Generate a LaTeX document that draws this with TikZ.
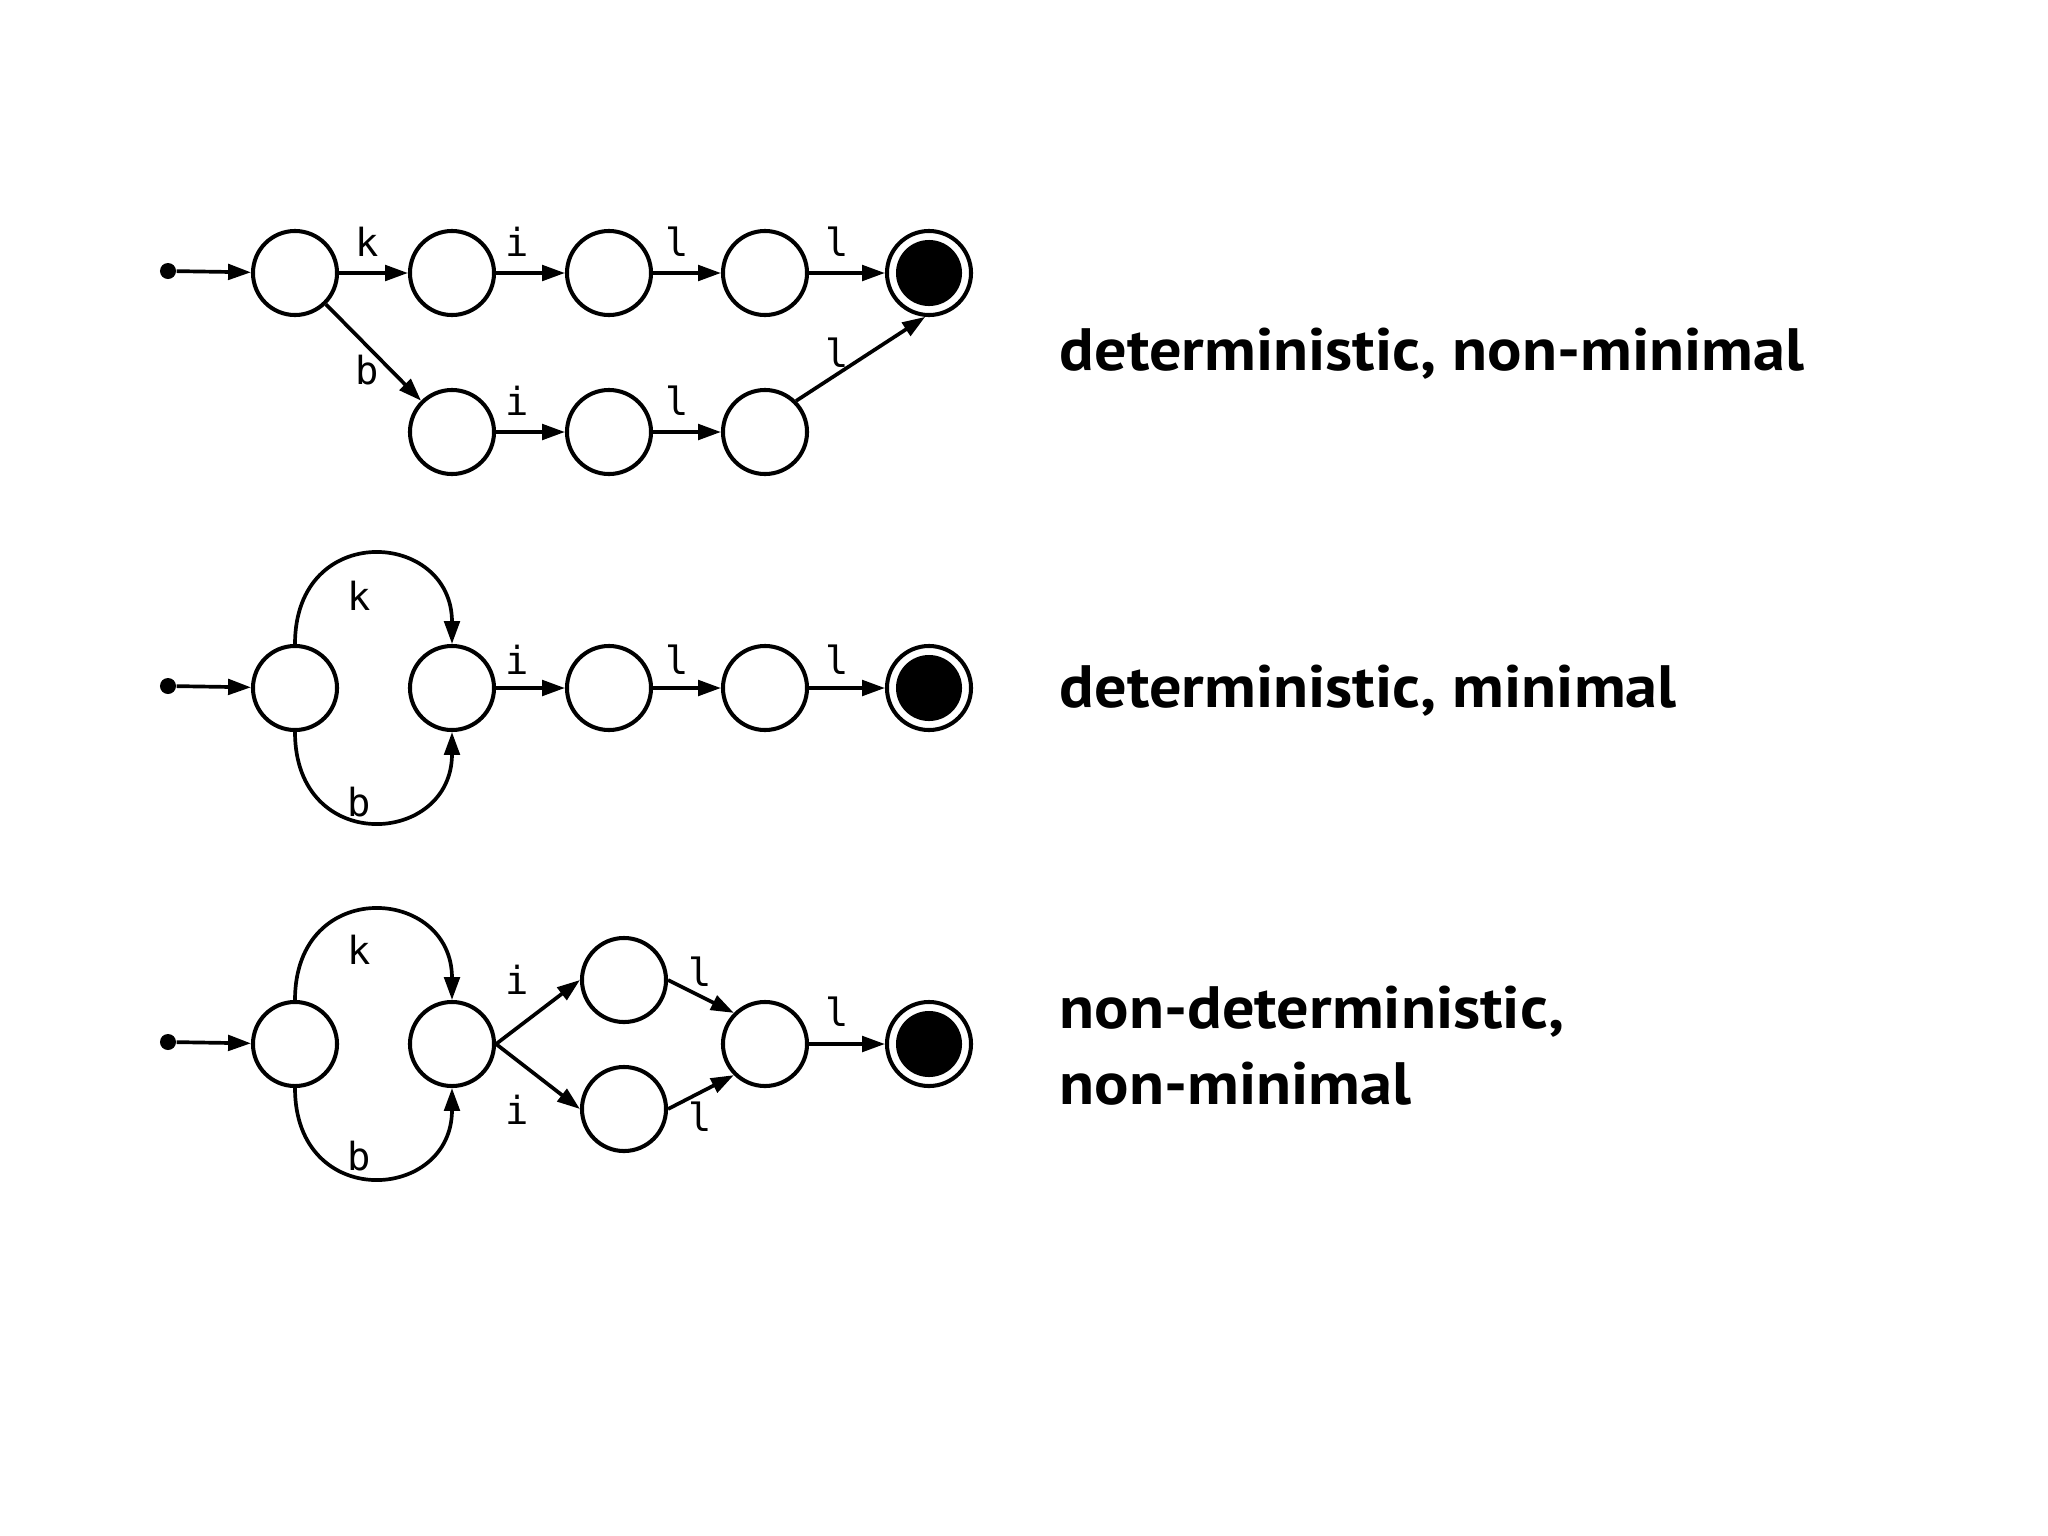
\documentclass[tikz,border=0pt]{standalone}
\usepackage{fontspec}
\setmainfont{PT Sans}
\newfontfamily\lblfont{DejaVu Sans Mono}
\newfontfamily\ttlfont[FakeStretch=1.075]{PT Sans}
\usetikzlibrary{arrows.meta}
\begin{document}
\begin{tikzpicture}[x=0.01cm,y=-0.01cm,
  state/.style={circle,draw,line width=1.15pt,minimum size=0.84cm,inner sep=0pt},
  acc/.style={state,path picture={\fill (path picture bounding box.center) circle (0.33cm);}},
  edge/.style={line width=1.05pt,-{Triangle[length=6.5pt,width=4.4pt]}},
  lbl/.style={font=\lblfont\fontsize{11}{13}\selectfont,inner sep=0pt},
  ttl/.style={font=\ttlfont\bfseries\fontsize{17}{21.6}\selectfont,anchor=base west,inner sep=0pt,align=left},
  startdot/.style={circle,fill,minimum size=0.16cm,inner sep=0pt}]
\useasboundingbox (0,0) rectangle (2048,1536);

% ---------- row 1 ----------
\node[startdot] (s1) at (168,271) {};
\node[state] (a1) at (295,273) {};
\node[state] (a2) at (452,273) {};
\node[state] (a3) at (609,273) {};
\node[state] (a4) at (765,273) {};
\node[acc]   (a5) at (929,273) {};
\node[state] (b2) at (452,432) {};
\node[state] (b3) at (609,432) {};
\node[state] (b4) at (765,432) {};
\draw[edge] (s1) -- (a1);
\draw[edge] (a1) -- (a2);
\draw[edge] (a2) -- (a3);
\draw[edge] (a3) -- (a4);
\draw[edge] (a4) -- (a5);
\draw[edge] (a1) -- (b2);
\draw[edge] (b2) -- (b3);
\draw[edge] (b3) -- (b4);
\draw[edge] (b4.45) -- (a5.265);
\node[lbl] (la1) at (367,242) {k};
\node[lbl] (la2) at (517,242) {i};
\node[lbl] (la3) at (677,242) {l};
\node[lbl] (la4) at (837,242) {l};
\node[lbl] (lb1) at (367,370) {b};
\node[lbl] (lb2) at (517,401) {i};
\node[lbl] (lb3) at (677,401) {l};
\node[lbl] (lb4) at (837,353) {l};
\node[ttl] (t1) at (1059,370) {deterministic, non-minimal};

% ---------- row 2 ----------
\node[startdot] (s2) at (168,686) {};
\node[state] (c1) at (295,688) {};
\node[state] (c2) at (452,688) {};
\node[state] (c3) at (609,688) {};
\node[state] (c4) at (765,688) {};
\node[acc]   (c5) at (929,688) {};
\draw[edge] (s2) -- (c1);
\draw[edge] (c1.north) .. controls (295,520) and (452,530) .. (c2.north);
\draw[edge] (c1.south) .. controls (295,856) and (452,846) .. (c2.south);
\draw[edge] (c2) -- (c3);
\draw[edge] (c3) -- (c4);
\draw[edge] (c4) -- (c5);
\node[lbl] (lc1) at (359,596) {k};
\node[lbl] (lc2) at (359,802) {b};
\node[lbl] (lc3) at (517,660) {i};
\node[lbl] (lc4) at (677,660) {l};
\node[lbl] (lc5) at (837,660) {l};
\node[ttl] (t2) at (1059,707) {deterministic, minimal};

% ---------- row 3 ----------
\node[startdot] (s3) at (168,1042) {};
\node[state] (d1) at (295,1044) {};
\node[state] (d2) at (452,1044) {};
\node[state] (du) at (624,980) {};
\node[state] (dl) at (624,1109) {};
\node[state] (d4) at (765,1044) {};
\node[acc]   (d5) at (929,1044) {};
\draw[edge] (s3) -- (d1);
\draw[edge] (d1.north) .. controls (295,876) and (452,886) .. (d2.north);
\draw[edge] (d1.south) .. controls (295,1212) and (452,1202) .. (d2.south);
\draw[edge] (d2.east) -- (du.west);
\draw[edge] (d2.east) -- (dl.west);
\draw[edge] (du.east) -- (d4.north west);
\draw[edge] (dl.east) -- (d4.south west);
\draw[edge] (d4) -- (d5);
\node[lbl] (ld1) at (359,950) {k};
\node[lbl] (ld2) at (359,1156) {b};
\node[lbl] (ld3) at (517,980) {i};
\node[lbl] (ld4) at (517,1110) {i};
\node[lbl] (ld5) at (700,972) {l};
\node[lbl] (ld6) at (700,1117) {l};
\node[lbl] (ld7) at (837,1012) {l};
\node[ttl] (t3) at (1059,1104) {non-deterministic,\\non-minimal};
\end{tikzpicture}
\end{document}
